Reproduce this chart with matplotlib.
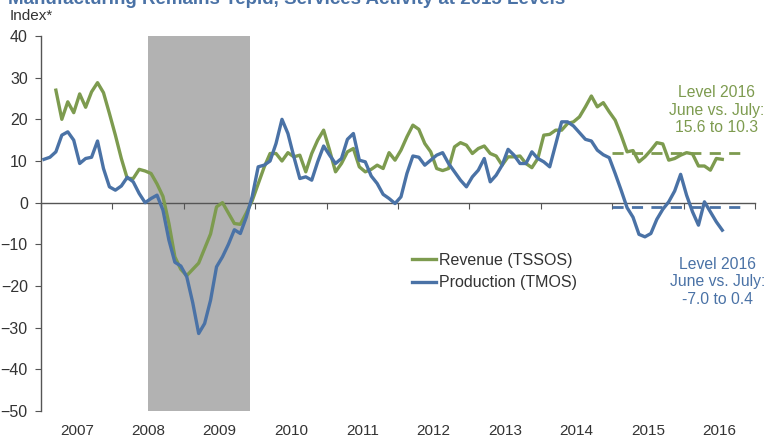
import numpy as np
import matplotlib
matplotlib.use('Agg')
import matplotlib.pyplot as plt

plt.rcParams['font.family'] = ['Liberation Sans', 'DejaVu Sans']

# monthly values, Jan 2007 - Jul 2016 (blue) / Mar 2007 - Jul 2016 (green)
production = [10.4, 10.9, 12.2, 16.2, 17.0, 15.0, 9.4, 10.6, 10.9, 14.8, 8.2, 3.8,
              3.0, 4.0, 6.1, 5.0, 2.2, 0.0, 1.0, 1.8, -1.8, -9.0, -14.3, -15.2,
              -17.8, -24.0, -31.4, -29.0, -23.4, -15.4, -13.0, -10.0, -6.5, -7.4, -3.5, 1.5,
              8.6, 9.0, 10.0, 14.2, 20.0, 16.6, 11.0, 5.8, 6.2, 5.4, 9.8, 13.6,
              11.4, 9.4, 10.6, 15.2, 16.6, 10.2, 9.8, 6.4, 4.6, 2.0, 1.0, -0.2,
              1.4, 7.0, 11.2, 10.9, 9.0, 10.2, 11.4, 12.0, 9.4, 7.4, 5.4, 3.8,
              6.2, 7.8, 10.6, 5.0, 6.6, 9.0, 12.8, 11.4, 9.4, 9.4, 12.2, 10.6,
              9.8, 8.6, 14.0, 19.4, 19.4, 18.4, 16.8, 15.2, 14.8, 12.6, 11.5, 10.8,
              7.0, 3.0, -1.2, -3.5, -7.6, -8.2, -7.4, -4.0, -1.6, 0.2, 2.8, 6.8,
              1.8, -2.2, -5.4, 0.2, -2.2, -4.6, -6.6]
revenue = [27.0, 20.0, 24.2, 21.6, 26.1, 22.9, 26.6, 28.8, 26.4, 21.4,
           16.2, 10.6, 5.8, 5.8, 8.0, 7.6, 7.0, 4.5, 1.5, -5.0, -13.0, -16.0,
           -17.5, -16.0, -14.5, -11.0, -7.5, -1.0, 0.0, -2.5, -5.0, -5.2, -2.5, 0.5,
           4.5, 8.5, 11.8, 11.8, 10.0, 12.0, 11.0, 11.4, 7.4, 11.8, 15.0, 17.4,
           12.6, 7.4, 9.4, 12.2, 13.0, 8.6, 7.4, 8.0, 9.0, 8.2, 12.0, 10.2,
           12.6, 15.8, 18.6, 17.6, 14.2, 12.2, 8.2, 7.7, 8.2, 13.4, 14.4, 13.8,
           11.8, 13.0, 13.6, 11.8, 11.2, 9.0, 11.0, 11.0, 11.2, 9.4, 8.4, 10.6,
           16.2, 16.4, 17.4, 17.4, 19.0, 19.4, 20.6, 23.0, 25.6, 23.0, 24.0, 21.8,
           19.8, 16.2, 12.2, 12.5, 9.8, 11.0, 12.6, 14.4, 14.1, 10.2, 10.6, 11.4,
           12.0, 11.7, 8.8, 8.8, 7.8, 10.6, 10.4]
years = list(range(2007, 2017))
recession = (2008.5, 2009.93)
rev_level, prod_level = 12.0, -1.0
level_span = (2015.0, 2016.88)

green = '#7d9b4f'
blue = '#4a72a6'
t_prod = 2007 + (np.arange(len(production)) + 0.5) / 12
t_rev = 2007 + (np.arange(len(revenue)) + 2.5) / 12

fig = plt.figure(figsize=(7.69, 4.38), dpi=100)
ax = fig.add_axes([41 / 769, 1 - 411 / 438, 714 / 769, 375 / 438])

ax.axvspan(*recession, color='#b2b2b2', lw=0, zorder=0)
ax.plot(t_rev, revenue, color=green, lw=2.4, label='Revenue (TSSOS)', zorder=3)
ax.plot(t_prod, production, color=blue, lw=2.4, label='Production (TMOS)', zorder=4)
ax.hlines(rev_level, *level_span, colors=green, lw=2.0, linestyles=(0, (4, 3)), zorder=5)
ax.hlines(prod_level, *level_span, colors=blue, lw=2.0, linestyles=(0, (4, 3)), zorder=5)

ax.set_xlim(2007, 2017)
ax.set_ylim(-50, 40)
ax.set_yticks(range(-50, 41, 10))
ax.set_xticks(range(2007, 2018))
for s in ['top', 'right']:
    ax.spines[s].set_visible(False)
ax.spines['bottom'].set_position(('data', 0))
for s in ['left', 'bottom']:
    ax.spines[s].set_color('#555555')
    ax.spines[s].set_linewidth(1.0)
ax.tick_params(axis='x', direction='out', length=4, color='#555555', labelbottom=False)
ax.tick_params(axis='y', direction='out', length=4.5, color='#555555', pad=5,
               labelsize=11.5, labelcolor='#333333')

for y in years:
    ax.text(y + 0.5, -0.053, str(y), transform=ax.get_xaxis_transform(),
            ha='center', va='center', fontsize=11, color='#333333')

ax.text(2016.46, 22.2, 'Level 2016\nJune vs. July:\n15.6 to 10.3', color=green,
        ha='center', va='center', fontsize=11.3, linespacing=1.2)
ax.text(2016.48, -19.0, 'Level 2016\nJune vs. July:\n-7.0 to 0.4', color=blue,
        ha='center', va='center', fontsize=11.3, linespacing=1.2)

ax.legend(loc='center left', bbox_to_anchor=(0.499, 0.372), frameon=False,
          fontsize=11.5, handlelength=1.5, handletextpad=0.2, labelspacing=0.5,
          labelcolor='#333333')

fig.text(10 / 769, 1 - 20 / 438, 'Index*', fontsize=11, color='#333333', va='baseline')
fig.text(8 / 769, 1 - 4.5 / 438, 'Manufacturing Remains Tepid, Services Activity at 2015 Levels',
         fontsize=13.5, fontweight='bold', color='#4a72a6', va='baseline')

fig.savefig('out.png', dpi=100)
